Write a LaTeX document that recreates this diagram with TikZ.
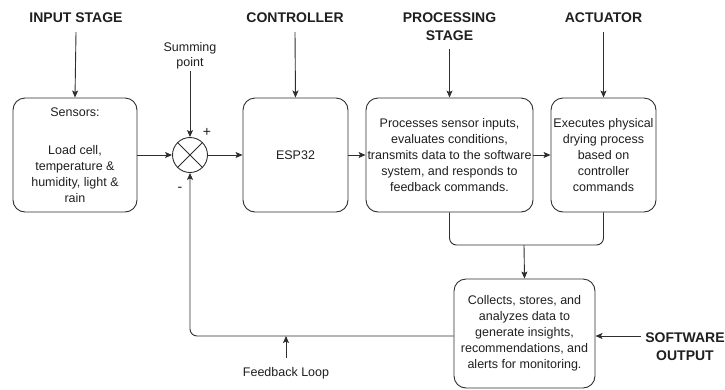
\documentclass[tikz,border=0pt]{standalone}
\usepackage{fontspec}
\setmainfont{Liberation Sans}
\usetikzlibrary{arrows.meta,calc}

\begin{document}
\begin{tikzpicture}[x=1pt,y=-1pt,
  every node/.style={text=black!88},
  line/.style={draw=black!82,line width=0.9pt},
  arr/.style={line,-{Stealth[length=7pt,width=6pt,inset=1.5pt]}},
  block/.style={line,rounded corners=12pt,align=center,inner sep=0pt,
    font=\fontsize{12.5}{16}\selectfont},
  head/.style={align=center,inner sep=0pt,
    font=\fontsize{14}{18}\bfseries\selectfont},
  note/.style={align=center,inner sep=0pt,
    font=\fontsize{12.5}{15}\selectfont},
  sign/.style={inner sep=0pt,font=\fontsize{14}{14}\selectfont}]

\useasboundingbox (0,0) rectangle (725,389);

% main blocks
\node[block,minimum width=124,minimum height=114] (sens) at (75,155)
  {Sensors:\\[22pt]Load cell,\\temperature \&\\humidity, light \&\\rain};
\node[circle,line,minimum size=35,inner sep=0pt] (sum) at (190,155) {};
\draw[line] (sum.north west) -- (sum.south east)
            (sum.north east) -- (sum.south west);
\node[block,minimum width=105,minimum height=114] (esp) at (295.5,155) {ESP32};
\node[block,minimum width=167,minimum height=114] (proc) at (449.5,155)
  {Processes sensor inputs,\\evaluates conditions,\\transmits data to the software\\system, and responds to\\feedback commands.};
\node[block,minimum width=105,minimum height=114] (act) at (603.5,155)
  {Executes physical\\drying process\\based on\\controller\\commands};
\node[block,minimum width=141,minimum height=109] (soft) at (524.5,333.5)
  {\raisebox{-4pt}{\begin{tabular}{@{}c@{}}Collects, stores, and\\analyzes data to\\generate insights,\\recommendations, and\\alerts for monitoring.\end{tabular}}};

% headings
\node[head,minimum height=28] (hin) at (76,18) {INPUT STAGE};
\node[head,minimum height=28] (hctl) at (295,18) {CONTROLLER};
\node[head,minimum height=44] (hproc) at (449.5,27) {PROCESSING\\STAGE};
\node[head,minimum height=28] (hact) at (603.5,18) {ACTUATOR};
\node[head] (hsw) at (685,346.5) {SOFTWARE\\OUTPUT};

% small labels
\node[note,minimum height=31] (sp) at (190,55.5) {Summing\\point};
\node[note,minimum height=30] (fbl) at (286,373) {Feedback Loop};
\node[sign] (plus) at (207,132) {+};
\node[sign] (minus) at (180,189) {-};

% heading arrows
\draw[arr] (hin.south) -- (sens.north);
\draw[arr] (hctl.south) -- (esp.north);
\draw[arr] (hproc.south) -- (proc.north);
\draw[arr] (hact.south) -- (act.north);
\draw[arr] (sp.south) -- (sum.north);

% forward path
\draw[arr] (sens.east) -- (sum.west);
\draw[arr] (sum.east) -- (esp.west);
\draw[arr] (esp.east) -- (proc.west);
\draw[arr] (proc.east) -- (act.west);

% merge into software block
\coordinate (mj) at (524,245);
\draw[line,rounded corners=7pt] (proc.south) |- (mj) -| (act.south);
\draw[arr] (mj) -- (soft.north);

% software output and feedback loop
\coordinate (swin) at (641,336);
\draw[arr] (swin) -- (swin -| soft.east);
\draw[arr,rounded corners=7pt] (swin -| soft.west) -| (sum.south);
\draw[arr] (fbl.north) -- (fbl.north |- swin);
\end{tikzpicture}
\end{document}
